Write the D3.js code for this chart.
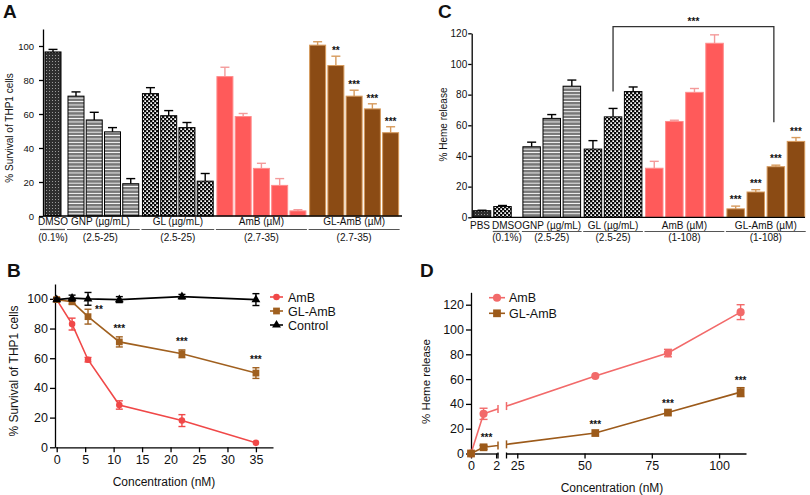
<!DOCTYPE html>
<html><head><meta charset="utf-8">
<script src="https://cdn.jsdelivr.net/npm/d3@7/dist/d3.min.js"></script>
<style>
body{margin:0;background:#fff}
svg{display:block}
text{font-family:Arial,"Liberation Sans",Helvetica,sans-serif;fill:#111}
</style></head><body>
<svg id="chart" width="810" height="495"></svg>
<script>
// ---------------- DATA ----------------
// Panel A: % survival of THP1 cells
const aGroupNames = ["DMSO","GNP (µg/mL)","GL (µg/mL)","AmB (µM)","GL-AmB (µM)"];
const aGroupRanges = ["(0.1%)","(2.5-25)","(2.5-25)","(2.7-35)","(2.7-35)"];
const aValues = [[96.5],[70.5,56.5,49.5,19],[72,59,52,20.5],[82,58.5,28,18,3],[100.5,88.5,70.5,63,49]];
const aErrors = [[1.5],[2.5,4.5,2.5,3],[3.5,3,3,4.5],[5.5,1.8,3,4,0.7],[2,5.5,3.5,3,3.5]];
const aStars = [[],[],[],[],["","**","***","***","***"]];
const aTicks = [0,20,40,60,80,100];

// Panel B: % survival vs concentration
const bConc = [0,2.7,5.5,11,22,35];
const bAmB = [99.5,83,59,28.5,18,3];
const bAmBErr = [1,4,1.5,2.8,4,0.6];
const bGLAmB = [99.5,98,88,71,63,50];
const bGLAmBErr = [1,1.5,5,3.4,2.6,3.6];
const bControl = [99.5,100.5,100,99.5,101.5,99.5];
const bControlErr = [1,2,4.3,2,1.5,4];
const bStars = ["","","**","***","***","***"];
const bXTicks = [0,5,10,15,20,25,30,35];
const bYTicks = [0,20,40,60,80,100];
const bSeriesNames = ["AmB","GL-AmB","Control"];

// Panel C: % heme release
const cGroupNames = ["PBS","DMSO","GNP (µg/mL)","GL (µg/mL)","AmB (µM)","GL-AmB (µM)"];
const cGroupRanges = ["","(0.1%)","(2.5-25)","(2.5-25)","(1-108)","(1-108)"];
const cValues = [[4.3],[7],[46,64.5,85.5],[44.5,65.5,82],[32,62.5,81.5,113.5],[5.5,16.5,33,49.5]];
const cErrors = [[0.3],[0.7],[3,2.5,4],[5.5,5.5,3],[4.5,0.8,2.5,5.5],[1.8,1.5,1,2.5]];
const cStars = [[],[],[],[],[],["***","***","***","***"]];
const cTicks = [0,20,40,60,80,100,120];
const cBracket = {fromGroup:3, fromBar:1, toGroup:5, toBar:2, top:124.3, fromEnd:82, toEnd:62, label:"***"};

// Panel D: % heme release vs concentration
const dConc = [0,1,54,81,108];
const dAmB = [0,32,62.5,81,114];
const dAmBErr = [0,4.5,1,3,6];
const dGLAmB = [0,5,16.5,33,49.5];
const dGLAmBErr = [0,1.5,1,1,3.6];
const dStars = ["","***","***","***","***"];
const dXTicksLow = [0,2];
const dXTicksHigh = [25,50,75,100];
const dYTicks = [0,20,40,60,80,100,120];
const dSeriesNames = ["AmB","GL-AmB"];

// ---------------- STYLE ----------------
const RED = "#ff5a5a", RED_EDGE = "#ff8c8c", RED_ERR = "#f49a9a";
const BROWN = "#8b4b14", BROWN_EDGE = "#d69a5c";
const LINE_RED = "#f04848", LINE_BROWN = "#a0601f";
const D_RED = "#f26a6a", D_BROWN = "#9c5a1a";

const svg = d3.select("#chart");
const defs = svg.append("defs");
function makePattern(id,w,h,bg,cells,cellColor){
  const p = defs.append("pattern").attr("id",id).attr("patternUnits","userSpaceOnUse")
    .attr("width",w).attr("height",h);
  p.append("rect").attr("width",w).attr("height",h).attr("fill",bg);
  cells.forEach(c=>p.append("rect").attr("x",c[0]).attr("y",c[1]).attr("width",c[2]).attr("height",c[3]).attr("fill",cellColor));
}
makePattern("pDark",3,3,"#2e2e2e",[[1,1,1,1]],"#9a9a9a");
makePattern("pStripe",6,3.4,"#ffffff",[[0,0,6,2.5]],"#787878");
makePattern("pCheck",4,4,"#0a0a0a",[[0.3,0.3,1.7,1.7],[2.3,2.3,1.7,1.7]],"#ffffff");

const sDark = {fill:"url(#pDark)",stroke:"#000",err:"#000"};
const sStripe = {fill:"url(#pStripe)",stroke:"#000",err:"#000"};
const sCheck = {fill:"url(#pCheck)",stroke:"#000",err:"#000"};
const sRed = {fill:RED,stroke:RED_EDGE,err:RED_ERR};
const sBrown = {fill:BROWN,stroke:BROWN_EDGE,err:BROWN_EDGE};

function styleAxis(sel,fs){
  sel.selectAll("path,line").attr("stroke","#000").attr("stroke-width",1.3);
  sel.selectAll("text").attr("font-size",fs).attr("fill","#111")
    .style("font-family","Arial, 'Liberation Sans', sans-serif");
}

// -------- generic bar panel --------
function barPanel(o){
  const g = svg.append("g");
  const bars = []; let s = 0;
  o.values.forEach((grp,gi)=>{
    if(gi>0) s += o.gaps[gi-1];
    grp.forEach((v,j)=>{
      bars.push({gi,j,v,e:o.errors[gi][j],star:(o.stars[gi]||[])[j]||"",slot:s});
      s += 1;
    });
  });
  const x = d3.scaleLinear().domain([0,1]).range([o.x0,o.x0+o.pitch]);
  const y = o.y, bw = o.bw;
  const eb = g.append("g");
  bars.filter(d=>d.e>0).forEach(d=>{
    const cx = x(d.slot), col = o.styles[d.gi].err;
    eb.append("line").attr("x1",cx).attr("x2",cx).attr("y1",y(d.v)).attr("y2",y(d.v+d.e))
      .attr("stroke",col).attr("stroke-width",1.4);
    eb.append("line").attr("x1",cx-o.cap).attr("x2",cx+o.cap).attr("y1",y(d.v+d.e)).attr("y2",y(d.v+d.e))
      .attr("stroke",col).attr("stroke-width",1.4);
  });
  g.selectAll("rect.bar").data(bars).join("rect").attr("class","bar")
    .attr("x",d=>x(d.slot)-bw/2).attr("y",d=>y(d.v))
    .attr("width",bw).attr("height",d=>y(0)-y(d.v))
    .attr("fill",d=>o.styles[d.gi].fill).attr("stroke",d=>o.styles[d.gi].stroke).attr("stroke-width",1);
  g.selectAll("text.star").data(bars.filter(d=>d.star)).join("text").attr("class","star")
    .attr("x",d=>x(d.slot)).attr("y",d=>y(d.v+d.e)-o.starGap)
    .attr("text-anchor","middle").attr("font-size",10).attr("font-weight","bold").text(d=>d.star);
  const ya = g.append("g").attr("transform",`translate(${o.axisX},0)`)
    .call(d3.axisLeft(y).tickValues(o.ticks).tickSize(o.tickLen).tickPadding(o.tickPad).tickSizeOuter(0));
  styleAxis(ya,o.tickFont);
  g.append("line").attr("x1",o.axisX).attr("x2",o.xEnd).attr("y1",y(0)).attr("y2",y(0))
    .attr("stroke","#000").attr("stroke-width",1.3);
  o.names.forEach((nm,gi)=>{
    const gb = bars.filter(d=>d.gi===gi);
    const left = x(gb[0].slot)-bw/2, right = x(gb[gb.length-1].slot)+bw/2;
    const cx = (left+right)/2 + (o.labelShift[gi]||0);
    g.append("text").attr("x",cx).attr("y",o.lab1Y).attr("text-anchor","middle")
      .attr("font-size",o.labFont).text(nm);
    if(o.ranges[gi]){
      g.append("line").attr("x1",left+(o.lineAdj[gi]?o.lineAdj[gi][0]:-1)).attr("x2",right+(o.lineAdj[gi]?o.lineAdj[gi][1]:1))
        .attr("y1",o.lineY).attr("y2",o.lineY).attr("stroke","#555").attr("stroke-width",1.2);
      g.append("text").attr("x",cx).attr("y",o.lab2Y).attr("text-anchor","middle")
        .attr("font-size",o.labFont).text(o.ranges[gi]);
    }
  });
  return {g,x,y,bars};
}

// -------- Panel A --------
const yA = d3.scaleLinear().domain([0,110]).range([216,29]);
barPanel({values:aValues,errors:aErrors,stars:aStars,names:aGroupNames,ranges:aGroupRanges,
  styles:[sDark,sStripe,sCheck,sRed,sBrown],gaps:[0.26,0.08,0.08,0.08],
  x0:53,pitch:18.25,bw:16,y:yA,cap:4.5,starGap:2,axisX:43,xEnd:402,ticks:aTicks,
  tickLen:4,tickPad:5,tickFont:9.5,labFont:10,lab1Y:225,lineY:229.5,lab2Y:240.5,
  labelShift:{1:-3},lineAdj:{0:[-5,4]}});
svg.append("text").attr("transform","translate(13,128) rotate(-90)").attr("text-anchor","middle")
  .attr("font-size",10).text("% Survival of THP1 cells");

// -------- Panel C --------
const yC = d3.scaleLinear().domain([0,120]).range([217.3,33.3]);
const pc = barPanel({values:cValues,errors:cErrors,stars:cStars,names:cGroupNames,ranges:cGroupRanges,
  styles:[sDark,sCheck,sStripe,sCheck,sRed,sBrown],gaps:[0.02,0.45,0.05,0.05,0.05],
  x0:482,pitch:20.1,bw:17.5,y:yC,cap:4.5,starGap:3,axisX:471.7,xEnd:805,ticks:cTicks,
  tickLen:3.5,tickPad:1,tickFont:10,labFont:10,lab1Y:228.5,lineY:231.5,lab2Y:241,
  labelShift:{0:-2,1:4.5},lineAdj:{1:[-1,8]}});
svg.append("text").attr("transform","translate(447,124.5) rotate(-90)").attr("text-anchor","middle")
  .attr("font-size",10).text("% Heme release");
(function(){
  const b1 = pc.bars.find(d=>d.gi===cBracket.fromGroup && d.j===cBracket.fromBar);
  const b2 = pc.bars.find(d=>d.gi===cBracket.toGroup && d.j===cBracket.toBar);
  const x1 = pc.x(b1.slot), x2 = pc.x(b2.slot)-2;
  const p = d3.path();
  p.moveTo(x1,yC(cBracket.fromEnd)); p.lineTo(x1,yC(cBracket.top));
  p.lineTo(x2,yC(cBracket.top)); p.lineTo(x2,yC(cBracket.toEnd));
  svg.append("path").attr("d",p.toString()).attr("fill","none").attr("stroke","#333").attr("stroke-width",1.3);
  svg.append("text").attr("x",(x1+x2)/2).attr("y",yC(cBracket.top)-1.5).attr("text-anchor","middle")
    .attr("font-size",10).attr("font-weight","bold").text(cBracket.label);
})();

// -------- Panel B --------
const xB = d3.scaleLinear().domain([-0.3,38]).range([55,273]);
const yB = d3.scaleLinear().domain([0,110]).range([447.3,284]);
(function(){
  const g = svg.append("g");
  const xa = g.append("g").attr("transform",`translate(0,${yB(0)})`)
    .call(d3.axisBottom(xB).tickValues(bXTicks).tickSize(5).tickPadding(3).tickSizeOuter(0));
  styleAxis(xa,12.5);
  const ya = g.append("g").attr("transform",`translate(${xB(-0.3)},0)`)
    .call(d3.axisLeft(yB).tickValues(bYTicks).tickSize(5).tickPadding(2).tickSizeOuter(0));
  styleAxis(ya,12.5);
  const series = [
    {name:bSeriesNames[0],vals:bAmB,errs:bAmBErr,col:LINE_RED,sym:d3.symbolCircle,size:34},
    {name:bSeriesNames[1],vals:bGLAmB,errs:bGLAmBErr,col:LINE_BROWN,sym:d3.symbolSquare,size:46},
    {name:bSeriesNames[2],vals:bControl,errs:bControlErr,col:"#000",sym:d3.symbolTriangle,size:34}
  ];
  const line = d3.line().x(d=>xB(d[0])).y(d=>yB(d[1]));
  series.forEach(s=>{
    const pts = bConc.map((c,i)=>[c,s.vals[i],s.errs[i]]);
    g.append("path").attr("d",line(pts)).attr("fill","none").attr("stroke",s.col).attr("stroke-width",1.6);
    pts.forEach(p=>{
      const cx = xB(p[0]);
      if(p[2]>0.8){
        g.append("line").attr("x1",cx).attr("x2",cx).attr("y1",yB(p[1]-p[2])).attr("y2",yB(p[1]+p[2])).attr("stroke",s.col).attr("stroke-width",1.4);
        [p[1]-p[2],p[1]+p[2]].forEach(v=>g.append("line").attr("x1",cx-3.5).attr("x2",cx+3.5).attr("y1",yB(v)).attr("y2",yB(v)).attr("stroke",s.col).attr("stroke-width",1.4));
      }
      g.append("path").attr("d",d3.symbol(s.sym,s.size)()).attr("transform",`translate(${cx},${yB(p[1])})`).attr("fill",s.col);
    });
  });
  bConc.forEach((c,i)=>{
    if(!bStars[i]) return;
    const side = i===2;
    g.append("text").attr("x",xB(c)+(side?11:0)).attr("y",side?yB(bGLAmB[i]+bGLAmBErr[i])+4:yB(bGLAmB[i]+bGLAmBErr[i])-5)
      .attr("text-anchor","middle").attr("font-size",10).attr("font-weight","bold").text(bStars[i]);
  });
  series.forEach((s,i)=>{
    const ly = 297+i*14;
    g.append("line").attr("x1",270).attr("x2",283).attr("y1",ly).attr("y2",ly).attr("stroke",s.col).attr("stroke-width",1.6);
    g.append("path").attr("d",d3.symbol(s.sym,s.size)()).attr("transform",`translate(276.5,${ly})`).attr("fill",s.col);
    g.append("text").attr("x",288).attr("y",ly+4.5).attr("font-size",12.5).text(s.name);
  });
  g.append("text").attr("x",164).attr("y",486).attr("text-anchor","middle").attr("font-size",12).text("Concentration (nM)");
  g.append("text").attr("transform","translate(18,371) rotate(-90)").attr("text-anchor","middle").attr("font-size",12).text("% Survival of THP1 cells");
})();

// -------- Panel D --------
const xD = d3.scaleLinear().domain([0,2.15,21,110]).range([471,498,506.5,746]);
const yD = d3.scaleLinear().domain([0,130]).range([453.5,292.3]);
(function(){
  const g = svg.append("g");
  const xLow = d3.scaleLinear().domain([0,2.15]).range([xD(0),xD(2.15)]);
  const xHigh = d3.scaleLinear().domain([21,110]).range([xD(21),xD(110)]);
  const a1 = g.append("g").attr("transform",`translate(0,${yD(0)})`)
    .call(d3.axisBottom(xLow).tickValues(dXTicksLow).tickFormat(d3.format("d")).tickSize(5).tickPadding(3).tickSizeOuter(0));
  styleAxis(a1,12.5);
  const a2 = g.append("g").attr("transform",`translate(0,${yD(0)})`)
    .call(d3.axisBottom(xHigh).tickValues(dXTicksHigh).tickFormat(d3.format("d")).tickSize(5).tickPadding(3).tickSizeOuter(0));
  styleAxis(a2,12.5);
  [xD(2.15),xD(21)].forEach(bx=>g.append("line").attr("x1",bx).attr("x2",bx).attr("y1",yD(0)-1).attr("y2",yD(0)+5).attr("stroke","#000").attr("stroke-width",1.3));
  const ya = g.append("g").attr("transform",`translate(${xD(0)},0)`)
    .call(d3.axisLeft(yD).tickValues(dYTicks).tickSize(5).tickPadding(2).tickSizeOuter(0));
  styleAxis(ya,12.5);
  const c1 = defs.append("clipPath").attr("id","dClipLow");
  c1.append("rect").attr("x",440).attr("y",270).attr("width",xD(2.15)-440).attr("height",200);
  const c2 = defs.append("clipPath").attr("id","dClipHigh");
  c2.append("rect").attr("x",xD(21)).attr("y",270).attr("width",800-xD(21)).attr("height",200);
  const series = [
    {name:dSeriesNames[0],vals:dAmB,errs:dAmBErr,col:D_RED,sym:d3.symbolCircle,size:52},
    {name:dSeriesNames[1],vals:dGLAmB,errs:dGLAmBErr,col:D_BROWN,sym:d3.symbolSquare,size:60}
  ];
  const line = d3.line().x(d=>xD(d[0])).y(d=>yD(d[1]));
  series.forEach(s=>{
    const pts = dConc.map((c,i)=>[c,s.vals[i],s.errs[i]]);
    ["dClipLow","dClipHigh"].forEach(cid=>g.append("path").attr("d",line(pts)).attr("clip-path",`url(#${cid})`)
      .attr("fill","none").attr("stroke",s.col).attr("stroke-width",1.6));
    const i = pts.findIndex((p,k)=>k<pts.length-1 && p[0]<2.15 && pts[k+1][0]>21);
    const xa0 = xD(pts[i][0]), ya0 = yD(pts[i][1]), xb0 = xD(pts[i+1][0]), yb0 = yD(pts[i+1][1]);
    [xD(2.15),xD(21)].forEach(bx=>{
      const yy = ya0+(yb0-ya0)*(bx-xa0)/(xb0-xa0);
      g.append("line").attr("x1",bx).attr("x2",bx).attr("y1",yy-4).attr("y2",yy+4).attr("stroke",s.col).attr("stroke-width",1.5);
    });
    pts.forEach(p=>{
      const cx = xD(p[0]);
      if(p[2]>1.2){
        g.append("line").attr("x1",cx).attr("x2",cx).attr("y1",yD(p[1]-p[2])).attr("y2",yD(p[1]+p[2])).attr("stroke",s.col).attr("stroke-width",1.4);
        [p[1]-p[2],p[1]+p[2]].forEach(v=>g.append("line").attr("x1",cx-4).attr("x2",cx+4).attr("y1",yD(v)).attr("y2",yD(v)).attr("stroke",s.col).attr("stroke-width",1.4));
      }
      g.append("path").attr("d",d3.symbol(s.sym,s.size)()).attr("transform",`translate(${cx},${yD(p[1])})`).attr("fill",s.col);
    });
  });
  dConc.forEach((c,i)=>{
    if(!dStars[i]) return;
    g.append("text").attr("x",xD(c)+(i===1?3:0)).attr("y",yD(dGLAmB[i]+dGLAmBErr[i])-4)
      .attr("text-anchor","middle").attr("font-size",10).attr("font-weight","bold").text(dStars[i]);
  });
  series.forEach((s,i)=>{
    const ly = 297.7+i*15.6;
    g.append("line").attr("x1",489).attr("x2",505).attr("y1",ly).attr("y2",ly).attr("stroke",s.col).attr("stroke-width",1.6);
    g.append("path").attr("d",d3.symbol(s.sym,s.size)()).attr("transform",`translate(497,${ly})`).attr("fill",s.col);
    g.append("text").attr("x",509).attr("y",ly+4.5).attr("font-size",12.5).text(s.name);
  });
  g.append("text").attr("x",612).attr("y",492).attr("text-anchor","middle").attr("font-size",12).text("Concentration (nM)");
  g.append("text").attr("transform","translate(430,381.5) rotate(-90)").attr("text-anchor","middle").attr("font-size",11.5).text("% Heme release");
})();

// panel letters
[["A",3,18],["B",7,277],["C",438,18],["D",420,277]].forEach(l=>
  svg.append("text").attr("x",l[1]).attr("y",l[2]).attr("font-size",19).attr("font-weight","bold").text(l[0]));
</script></body></html>
